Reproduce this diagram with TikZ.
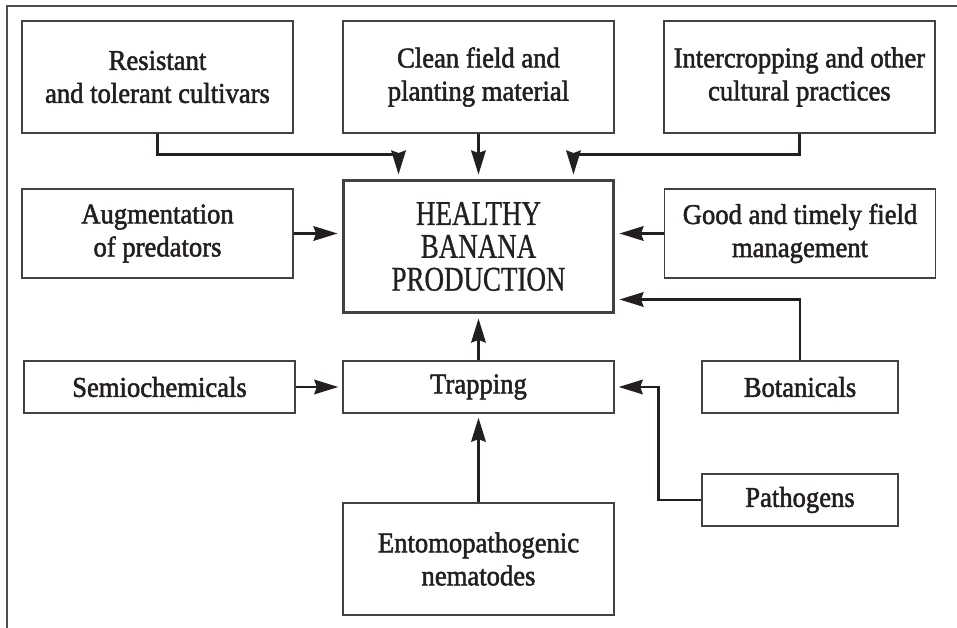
\documentclass[tikz,border=0pt]{standalone}
\usepackage{fontspec}
\setmainfont{Liberation Serif}[FakeStretch=0.93,FakeBold=1.8]
\newfontfamily\headfont{Liberation Serif}[FakeStretch=0.78,FakeBold=0.8]
\usetikzlibrary{arrows.meta,positioning}
\definecolor{ink}{HTML}{231F20}

\begin{document}
\begin{tikzpicture}[x=0.02cm,y=-0.02cm,node distance=6.42cm,on grid,
    block/.style={draw=ink!85,line width=0.8pt,text=ink,align=center,
        minimum width=5.42cm,font=\fontsize{16.3}{18.8}\selectfont},
    link/.style={draw=ink,line width=1.6pt,shorten >=0.08cm,
        -{Stealth[length=0.48cm,width=0.29cm,inset=0.05cm]}}]
    \useasboundingbox (0,0) rectangle (957,628);
    \draw[ink!80,line width=0.7pt] (7,628) -- (7,6) -- (957,6);

    \node[block,minimum height=2.24cm] (res)   at (157.5,77)   {Resistant\\and tolerant cultivars};
    \node[block,minimum height=2.24cm] (clean) [right=of res]   {Clean field and\\planting material};
    \node[block,minimum height=2.24cm] (inter) [right=of clean] {Intercropping and other\\cultural practices};

    \node[block,minimum height=1.78cm] (aug)  at (157.5,233.5) {Augmentation\\of predators};
    \node[block,minimum height=2.66cm,line width=1.7pt,
          font=\headfont\fontsize{19.7}{18.7}\selectfont]
                                       (health) at (478.5,246.5) {HEALTHY\\BANANA\\PRODUCTION};
    \node[block,minimum height=1.78cm] (good) at (800,233.5)   {Good and timely field\\management};

    \node[block,minimum height=1.04cm] (semi) at (159.5,387)   {Semiochemicals};
    \node[block,minimum height=1.04cm] (trap) at (478.5,387)   {Trapping};
    \node[block,minimum height=1.04cm,minimum width=3.92cm] (bot)  at (800,387) {Botanicals};
    \node[block,minimum height=1.04cm,minimum width=3.92cm] (path) at (800,500) {Pathogens};
    \node[block,minimum height=2.24cm] (ento) at (478.5,559)   {Entomopathogenic\\nematodes};

    \draw[link] (res.south) -- ++(0,21) -| ([xshift=1.14cm]health.north west);
    \draw[link] (clean.south) -- (health.north);
    \draw[link] (inter.south) -- ++(0,21) -| ([xshift=-0.84cm]health.north east);
    \draw[link] (aug.east) -- (aug.east -| health.west);
    \draw[link] (good.west) -- (good.west -| health.east);
    \draw[link] (bot.north) |- ([yshift=0.3cm]health.south east);
    \draw[link] (trap.north) -- (health.south);
    \draw[link] (semi.east) -- (trap.west);
    \draw[link] (path.west) -- ++(-43,0) |- (trap.east);
    \draw[link] (ento.north) -- (trap.south);
\end{tikzpicture}
\end{document}
